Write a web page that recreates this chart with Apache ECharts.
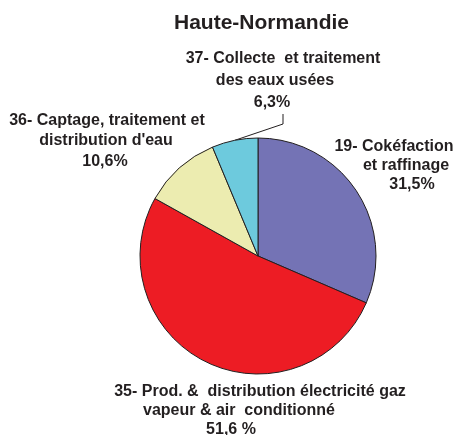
<!DOCTYPE html>
<html>
<head>
<meta charset="utf-8">
<script src="https://cdn.jsdelivr.net/npm/echarts@6/dist/echarts.min.js"></script>
<style>
  html, body { margin: 0; padding: 0; background: #fff; }
  #chart { width: 455px; height: 435px; }
</style>
</head>
<body>
<div id="chart"></div>
<script>
// secteurs (ordre horaire depuis le haut)
var names = [
    '19- Cokéfaction\net raffinage',
    '35- Prod. &  distribution électricité gaz\nvapeur & air  conditionné',
    '36- Captage, traitement et\ndistribution d\'eau',
    '37- Collecte  et traitement\ndes eaux usées'
];
var values = [31.5, 51.6, 10.6, 6.3];
var valueLabels = ['31,5%', '51,6 %', '10,6%', '6,3%'];
var colors = ['#7473b5', '#ed1c24', '#ececb0', '#6dcadd'];

// position des étiquettes (centre du bloc) et décalage des lignes 2 et 3
var labelPos = [
    [394, 166],
    [260, 411],
    [107, 141],
    [283, 81]
];
var lineShift = [
    [12, 18],
    [-21, -29],
    [-1, -2],
    [-8, -11]
];
var lineHeights = [19, 19, 20.5, 22];

var chart = echarts.init(document.getElementById('chart'));

function padTokens(shift, k) {
    // décale une ligne centrée en ajoutant un blanc à gauche ou à droite
    if (shift > 0) return { pre: '{l' + k + '| }', post: '' };
    if (shift < 0) return { pre: '', post: '{r' + k + '| }' };
    return { pre: '', post: '' };
}

var data = names.map(function (n, i) {
    var rich = {};
    lineShift[i].forEach(function (s, k) {
        rich['l' + k] = { width: Math.max(s, 0) * 2 };
        rich['r' + k] = { width: Math.max(-s, 0) * 2 };
    });
    return {
        name: n,
        value: values[i],
        itemStyle: { color: colors[i] },
        label: { lineHeight: lineHeights[i], rich: rich },
        labelLine: { show: i === 3 }
    };
});

var option = {
    backgroundColor: '#fff',
    title: {
        text: 'Haute-Normandie',
        left: 169,
        top: 8,
        textStyle: {
            fontFamily: 'Liberation Sans, Arial, sans-serif',
            fontSize: 21,
            fontWeight: 'bold',
            color: '#231f20'
        }
    },
    series: [
        {
            type: 'pie',
            center: [258, 256],
            radius: 118,
            startAngle: 90,
            clockwise: true,
            animation: false,
            itemStyle: {
                borderColor: '#231f20',
                borderWidth: 1
            },
            label: {
                show: true,
                position: 'outside',
                overflow: 'none',
                formatter: function (p) {
                    var i = p.dataIndex;
                    var parts = p.name.split('\n');
                    var lines = [parts[0], parts[1], valueLabels[i]];
                    var out = [lines[0]];
                    for (var k = 0; k < 2; k++) {
                        var t = padTokens(lineShift[i][k], k);
                        out.push(t.pre + lines[k + 1] + t.post);
                    }
                    return out.join('\n');
                },
                fontFamily: 'Liberation Sans, Arial, sans-serif',
                fontSize: 16,
                fontWeight: 'bold',
                color: '#231f20',
                align: 'center'
            },
            labelLine: {
                length: 10,
                length2: 10,
                lineStyle: { color: '#231f20', width: 1 }
            },
            labelLayout: function (params) {
                var p = labelPos[params.dataIndex];
                return {
                    x: p[0],
                    y: p[1],
                    align: 'center',
                    verticalAlign: 'middle'
                };
            },
            data: data
        }
    ]
};

chart.setOption(option);
</script>
</body>
</html>
